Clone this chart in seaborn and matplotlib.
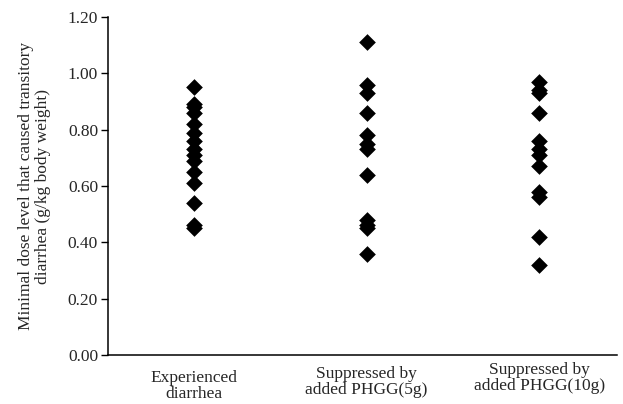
import matplotlib
matplotlib.use('Agg')
import matplotlib.pyplot as plt
import matplotlib.transforms as mtransforms
import seaborn as sns
import pandas as pd

# values (g/kg body weight)
groups = ['Experienced\ndiarrhea', 'Suppressed by\nadded PHGG(5g)', 'Suppressed by\nadded PHGG(10g)']
experienced = [0.95, 0.89, 0.88, 0.86, 0.82, 0.79, 0.76, 0.73, 0.71, 0.69, 0.65, 0.61, 0.54, 0.46, 0.45]
phgg_5g = [1.11, 0.96, 0.93, 0.86, 0.78, 0.75, 0.73, 0.64, 0.48, 0.46, 0.45, 0.36]
phgg_10g = [0.97, 0.94, 0.93, 0.86, 0.76, 0.73, 0.71, 0.67, 0.58, 0.56, 0.42, 0.32]
yticks = [0.0, 0.2, 0.4, 0.6, 0.8, 1.0, 1.2]

df = pd.DataFrame({
    'group': [groups[0]] * len(experienced) + [groups[1]] * len(phgg_5g) + [groups[2]] * len(phgg_10g),
    'dose': experienced + phgg_5g + phgg_10g,
})

sns.set_style('ticks')
plt.rcParams['font.family'] = ['Liberation Serif', 'DejaVu Serif']

fig = plt.figure(figsize=(6.23, 4.04), dpi=100)
ax = fig.add_axes([0.173, 0.121, 0.817, 0.837])

sns.stripplot(data=df, x='group', y='dose', order=groups, jitter=False,
              marker='D', size=8.5, color='black', linewidth=0, ax=ax)

ax.set_ylim(0, 1.2)
ax.set_xlim(-0.5, 2.45)
ax.set_yticks(yticks)
ax.set_yticklabels(['%.2f' % v for v in yticks], fontsize=12.5)
ax.tick_params(axis='y', length=5, width=1, direction='out', pad=2, color='black')
ax.tick_params(axis='x', length=0, pad=11, labelsize=12.5)
ax.set_xlabel('')
ax.set_ylabel('Minimal dose level that caused transitory\ndiarrhea (g/kg body weight)',
              fontsize=12.5, linespacing=1.1, labelpad=12)
sns.despine(ax=ax)
for s in ['left', 'bottom']:
    ax.spines[s].set_linewidth(1.1)
    ax.spines[s].set_color('black')

# the labels in the original sit at slightly different heights
for lab, dy in zip(ax.get_xticklabels(), [0, 4, 8]):
    lab.set_linespacing(1.0)
    lab.set_transform(lab.get_transform() + mtransforms.ScaledTranslation(0, dy / 100, fig.dpi_scale_trans))

fig.savefig('out.png', dpi=100, facecolor='white')
